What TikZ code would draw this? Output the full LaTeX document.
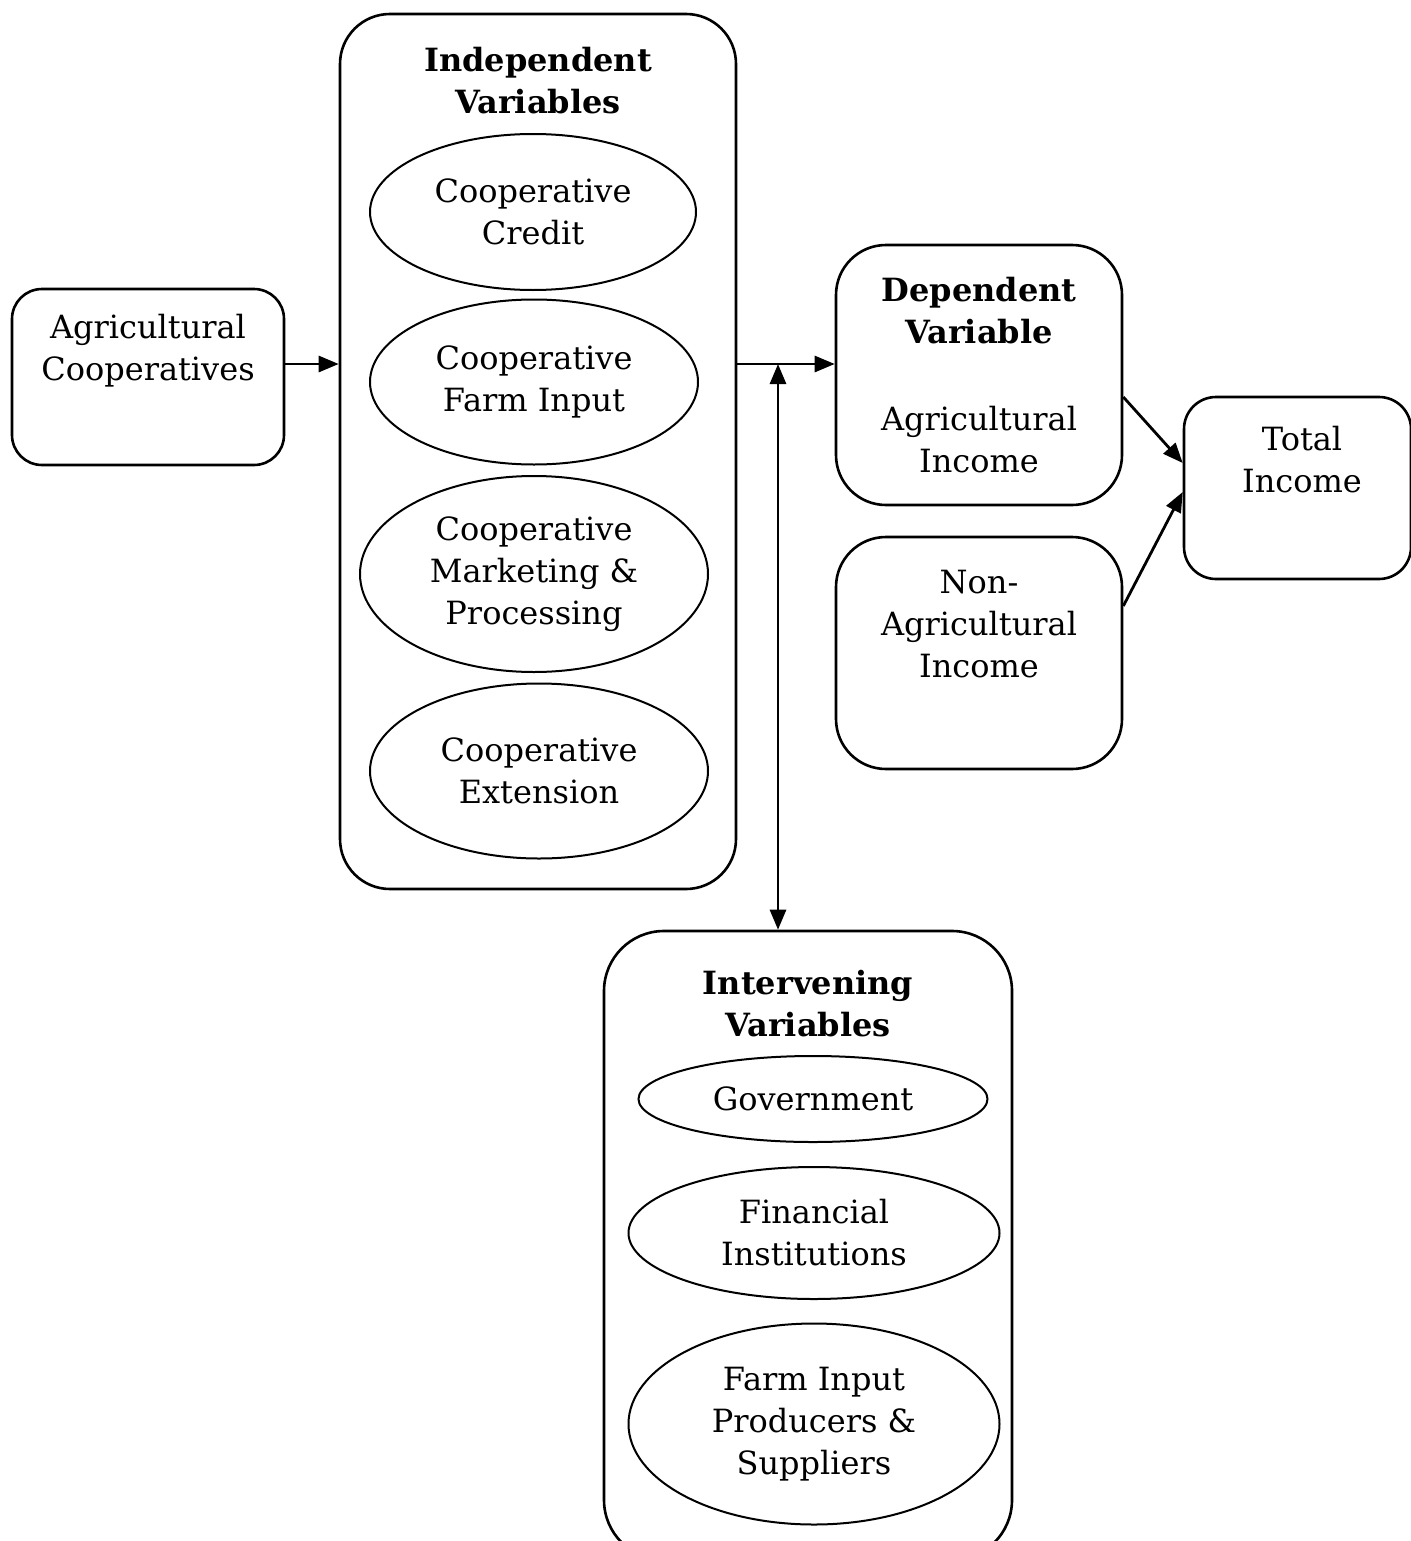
\documentclass[tikz,border=0pt]{standalone}
\usepackage{fontspec}
\setmainfont{DejaVu Serif}
\usetikzlibrary{shapes.geometric, arrows.meta, calc, positioning}

\tikzset{
  box/.style={draw, line width=1.3pt, inner sep=0pt},
  oval/.style={draw, ellipse, line width=1pt, inner sep=0pt, align=center,
    font=\fontsize{16}{21}\selectfont},
  txt/.style={align=center, font=\fontsize{16}{21}\selectfont},
  head/.style={align=center, font=\fontsize{16}{21}\selectfont\bfseries},
  arr/.style={line width=1.4pt, -{Triangle[length=10pt,width=8pt]}},
  arrboth/.style={line width=1.4pt, {Triangle[length=10pt,width=8pt]}-{Triangle[length=10pt,width=8pt]}},
}

\begin{document}
\begin{tikzpicture}[x=0.5pt, y=-0.5pt]
        \useasboundingbox (0,0) rectangle (1411,1541);
        \coordinate (jx) at (0,364);
        \coordinate (dx) at (778,364);
        \coordinate (a1) at (0,397);
        \coordinate (a2) at (0,606);
        \coordinate (b1) at (0,463);
        \coordinate (b2) at (0,492);
        \node[box, rounded corners=15pt, minimum width=136pt, minimum height=88pt] (agri) at (148,377) {};
        \node[txt] (agritxt) at (148,351) {Agricultural\\Cooperatives};
        \node[box, rounded corners=25pt, minimum width=198pt, minimum height=437.5pt] (indep) at (538,451.5) {};
        \node[head] (indephead) at (538,81) {Independent\\Variables};
        \node[oval, minimum width=163pt, minimum height=78pt] (credit) at (533,212) {Cooperative\\Credit};
        \node[oval, minimum width=164pt, minimum height=82.5pt] (farm) at (534,382) {Cooperative\\Farm Input};
        \node[oval, minimum width=174pt, minimum height=98pt] (market) at (534,574) {Cooperative\\Marketing \&\\Processing};
        \node[oval, minimum width=169pt, minimum height=87.5pt] (ext) at (539,771) {Cooperative\\Extension};
        \node[box, rounded corners=25pt, minimum width=143pt, minimum height=130pt] (dep) at (979,375) {};
        \node[head] (dephead) at (979,311) {Dependent\\Variable};
        \node[txt] (deptxt) at (979,440) {Agricultural\\Income};
        \node[box, rounded corners=25pt, minimum width=143pt, minimum height=116pt] (nonag) at (979,653) {};
        \node[txt] (nonagtxt) at (979,624) {Non-\\Agricultural\\Income};
        \node[box, rounded corners=16pt, minimum width=113.5pt, minimum height=91pt] (total) at (1297.5,488) {};
        \node[txt] (totaltxt) at (1302,460) {Total\\Income};
        \node[box, rounded corners=30pt, minimum width=204pt, minimum height=314.5pt] (interv) at (808,1245.5) {};
        \node[head] (intervhead) at (808,1004) {Intervening\\Variables};
        \node[oval, minimum width=174.5pt, minimum height=43pt] (gov) at (813,1099) {Government};
        \node[oval, minimum width=185.5pt, minimum height=66pt] (fin) at (814,1233) {Financial\\Institutions};
        \node[oval, minimum width=185.5pt, minimum height=100.5pt] (supp) at (814,1424) {Farm Input\\Producers \&\\Suppliers};
        \draw[arr] (agri.east |- jx) -- (indep.west |- jx);
        \draw[arr] (indep.east |- jx) -- (dep.west |- jx);
        \draw[arrboth] (dx) -- (dx |- interv.north);
        \draw[arr] (dep.east |- a1) -- (total.west |- b1);
        \draw[arr] (nonag.east |- a2) -- (total.west |- b2);
\end{tikzpicture}
\end{document}
